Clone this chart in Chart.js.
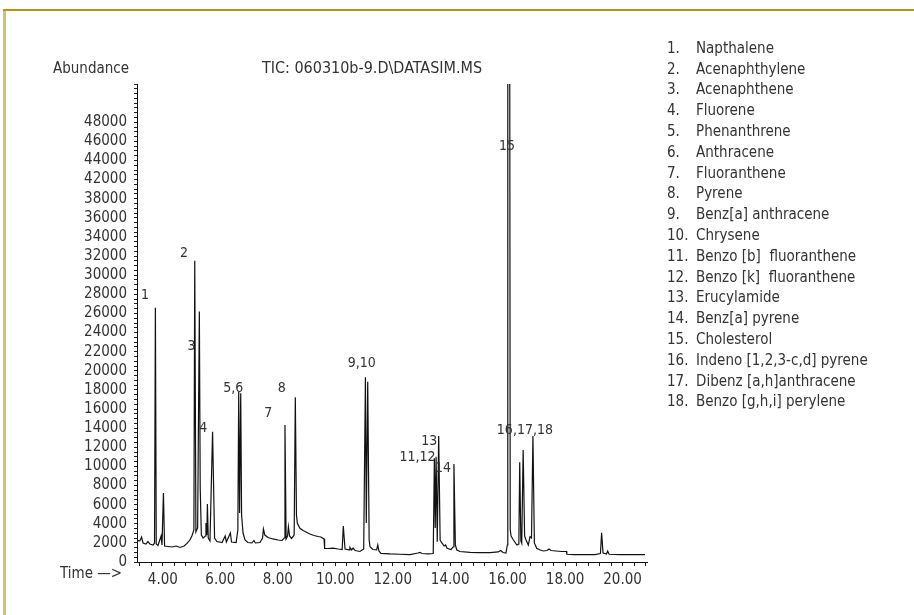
<!DOCTYPE html>
<html>
<head>
<meta charset="utf-8">
<title>TIC chromatogram</title>
<script src="https://cdn.jsdelivr.net/npm/chart.js@4"></script>
<style>
  html, body { margin: 0; padding: 0; background: #fff; }
  #wrap { width: 914px; height: 615px; }
</style>
</head>
<body>
<div id="wrap"><canvas id="tic" width="914" height="615"></canvas></div>
<script>
/* retention time (min) and abundance */
const times = [
  3.12, 3.20, 3.26, 3.31, 3.41, 3.48, 3.55, 3.66, 3.71, 3.74, 3.77, 3.83, 3.94, 3.97, 4.02, 4.06,
  4.18, 4.32, 4.46, 4.60, 4.74, 4.84, 4.94, 5.01, 5.08, 5.11, 5.15, 5.21, 5.27, 5.30, 5.34, 5.40,
  5.48, 5.50, 5.53, 5.55, 5.58, 5.64, 5.73, 5.80, 5.88, 6.06, 6.17, 6.21, 6.35, 6.39, 6.55, 6.61,
  6.64, 6.67, 6.71, 6.74, 6.79, 6.86, 6.96, 7.10, 7.17, 7.22, 7.38, 7.47, 7.50, 7.55, 7.66, 7.83,
  8.01, 8.15, 8.22, 8.25, 8.29, 8.34, 8.37, 8.41, 8.48, 8.57, 8.61, 8.65, 8.68, 8.77, 8.88, 8.98,
  9.12, 9.26, 9.40, 9.50, 9.61, 9.63, 9.75, 9.92, 10.10, 10.24, 10.28, 10.34, 10.48, 10.51, 10.57, 10.62,
  10.69, 10.86, 10.99, 11.05, 11.08, 11.13, 11.18, 11.21, 11.31, 11.44, 11.48, 11.52, 11.59, 11.91, 12.25, 12.60,
  12.88, 12.95, 13.02, 13.23, 13.41, 13.45, 13.48, 13.51, 13.55, 13.60, 13.65, 13.71, 13.79, 13.84, 13.89, 14.03,
  14.10, 14.13, 14.18, 14.23, 14.34, 14.69, 15.04, 15.39, 15.67, 15.76, 15.84, 15.94, 15.99, 16.005, 16.07, 16.09,
  16.12, 16.20, 16.32, 16.39, 16.42, 16.46, 16.49, 16.54, 16.59, 16.64, 16.72, 16.78, 16.83, 16.88, 16.93, 17.01,
  17.13, 17.24, 17.37, 17.44, 17.51, 17.68, 17.89, 18.05, 18.06, 18.34, 18.69, 19.04, 19.23, 19.27, 19.32, 19.44,
  19.48, 19.53, 19.91, 20.43, 20.78
];
const abundance = [
  2230, 2200, 2600, 1990, 1880, 2140, 1880, 1780, 1990, 26600, 1880, 1730, 2720, 1780, 7220, 1670,
  1620, 1570, 1670, 1520, 1670, 1940, 2300, 2720, 3350, 31500, 3140, 3560, 26200, 7740, 2820, 2510,
  2720, 4080, 2820, 6070, 2510, 2200, 13630, 2510, 2140, 2040, 2720, 2090, 3030, 2090, 2040, 3350,
  17800, 5130, 17650, 4920, 3030, 2300, 2040, 1990, 2250, 1990, 2040, 2510, 3450, 2820, 2560, 2410,
  2300, 2250, 2510, 14330, 2410, 2720, 3690, 2720, 2460, 2820, 17230, 4920, 4050, 3530, 3290, 3140,
  2930, 2770, 2670, 2620, 2410, 1430, 1410, 1460, 1360, 1310, 3770, 1360, 1260, 1520, 1260, 1460,
  1200, 1100, 1360, 19320, 4080, 18860, 2300, 1600, 1310, 1260, 1780, 1150, 910, 840, 810, 780,
  940, 1010, 890, 840, 890, 10850, 3560, 11010, 2120, 13180, 2300, 1990, 1670, 1780, 1430, 1310,
  1570, 10250, 1780, 1260, 1100, 1010, 990, 990, 1050, 1200, 990, 940, 1780, 60000, 60000, 3350,
  2720, 2300, 1780, 1880, 10430, 2200, 1960, 11720, 2720, 2300, 1780, 2650, 2510, 13180, 1990, 1430,
  1260, 1150, 1200, 1360, 1200, 1150, 1100, 1100, 810, 780, 780, 780, 890, 3060, 940, 840,
  1150, 810, 780, 780, 780
];

/* peak numbers written on the chart, with the point they sit at */
const peakLabels = ['1', '2', '3', '4', '5,6', '7', '8', '9,10', '11,12', '13', '14', '15', '16,17,18'];
const peakLabelTimes = [3.38, 4.74, 5.00, 5.41, 6.45, 7.67, 8.14, 10.92, 12.86, 13.27, 13.75, 15.98, 16.60];
const peakLabelValues = [27930, 32320, 22520, 13990, 18170, 15550, 18170, 20780, 10900, 12640, 9800, 43510, 13810];

/* compound list on the right */
const compoundNumbers = ['1.', '2.', '3.', '4.', '5.', '6.', '7.', '8.', '9.', '10.', '11.', '12.', '13.', '14.', '15.', '16.', '17.', '18.'];
const compoundNames = [
  'Napthalene', 'Acenaphthylene', 'Acenaphthene', 'Fluorene', 'Phenanthrene', 'Anthracene',
  'Fluoranthene', 'Pyrene', 'Benz[a] anthracene', 'Chrysene', 'Benzo [b]  fluoranthene',
  'Benzo [k]  fluoranthene', 'Erucylamide', 'Benz[a] pyrene', 'Cholesterol',
  'Indeno [1,2,3-c,d] pyrene', 'Dibenz [a,h]anthracene', 'Benzo [g,h,i] perylene'
];

/* axis tick labels as printed (40000 is missing in the original) */
const yTickLabels = ['0', '2000', '4000', '6000', '8000', '10000', '12000', '14000', '16000', '18000',
  '20000', '22000', '24000', '26000', '28000', '30000', '32000', '34000', '36000', '38000',
  '42000', '44000', '46000', '48000'];
const xTickLabels = ['4.00', '6.00', '8.00', '10.00', '12.00', '14.00', '16.00', '18.00', '20.00'];

const FONT = "'DejaVu Sans Condensed', 'Liberation Sans Narrow', sans-serif";
const TEXT = '#333';

const points = times.map((t, i) => ({ x: t, y: abundance[i] }));

const annotate = {
  id: 'annotate',
  beforeDraw(chart) {
    const ctx = chart.ctx;
    ctx.save();
    // frame lines of the figure
    ctx.fillStyle = '#d3c173';
    ctx.fillRect(3, 10, 3, 605);
    ctx.fillStyle = '#b8960c';
    ctx.fillRect(3, 9, 911, 2);
    ctx.restore();
  },
  afterDraw(chart) {
    const ctx = chart.ctx;
    const xs = chart.scales.x, ys = chart.scales.y;
    ctx.save();
    ctx.fillStyle = TEXT;
    ctx.textBaseline = 'middle';

    ctx.font = '15px ' + FONT;
    ctx.textAlign = 'left';
    ctx.fillText('Abundance', 53, 69);
    ctx.fillText('Time \u2014>', 60, 574);
    ctx.textAlign = 'center';
    ctx.font = '16px ' + FONT;
    ctx.fillText('TIC: 060310b-9.D\\DATASIM.MS', 372, 69);

    // peak numbers
    ctx.font = '14px ' + FONT;
    peakLabels.forEach((lab, i) => {
      ctx.fillText(lab, xs.getPixelForValue(peakLabelTimes[i]), ys.getPixelForValue(peakLabelValues[i]));
    });

    // compound list
    ctx.font = '15px ' + FONT;
    ctx.textAlign = 'left';
    compoundNames.forEach((name, i) => {
      const y = 49 + i * 20.8;
      ctx.fillText(compoundNumbers[i], 667, y);
      ctx.fillText(name, 696, y);
    });
    ctx.restore();
  }
};

const config = {
  type: 'line',
  data: {
    datasets: [{
      label: 'TIC',
      data: points,
      borderColor: '#111',
      borderWidth: 1.2,
      pointRadius: 0,
      tension: 0,
      fill: false
    }]
  },
  options: {
    responsive: false,
    animation: false,
    layout: {
      padding: { left: 0, top: 84, right: 267, bottom: 0 }
    },
    plugins: {
      legend: { display: false },
      tooltip: { enabled: false },
      title: { display: false }
    },
    scales: {
      x: {
        type: 'linear',
        min: 3.1,
        max: 20.85,
        afterFit: (s) => { s.height = 53; },
        grid: { drawOnChartArea: false, drawTicks: true, tickLength: 4, color: '#222' },
        border: { display: true, color: '#111', width: 1 },
        ticks: {
          stepSize: 0.4,
          autoSkip: false,
          includeBounds: false,
          maxRotation: 0,
          padding: 5,
          color: TEXT,
          font: { family: FONT, size: 15 },
          callback: (v) => {
            const r = Math.round(v);
            if (Math.abs(v - r) > 1e-6 || r % 2 !== 0) return '';
            return xTickLabels[(r - 4) / 2] || '';
          }
        }
      },
      y: {
        min: 0,
        max: 50000,
        afterFit: (s) => { s.width = 137; },
        grid: { drawOnChartArea: false, drawTicks: true, tickLength: 3, color: '#222' },
        border: { display: true, color: '#111', width: 1 },
        ticks: {
          stepSize: 500,
          autoSkip: false,
          padding: 7,
          color: TEXT,
          font: { family: FONT, size: 15 },
          callback: (v) => (v % 2000 === 0 ? (yTickLabels[v / 2000] || '') : '')
        }
      }
    }
  },
  plugins: [annotate]
};

const ticChart = new Chart(document.getElementById('tic'), config);
</script>
</body>
</html>
